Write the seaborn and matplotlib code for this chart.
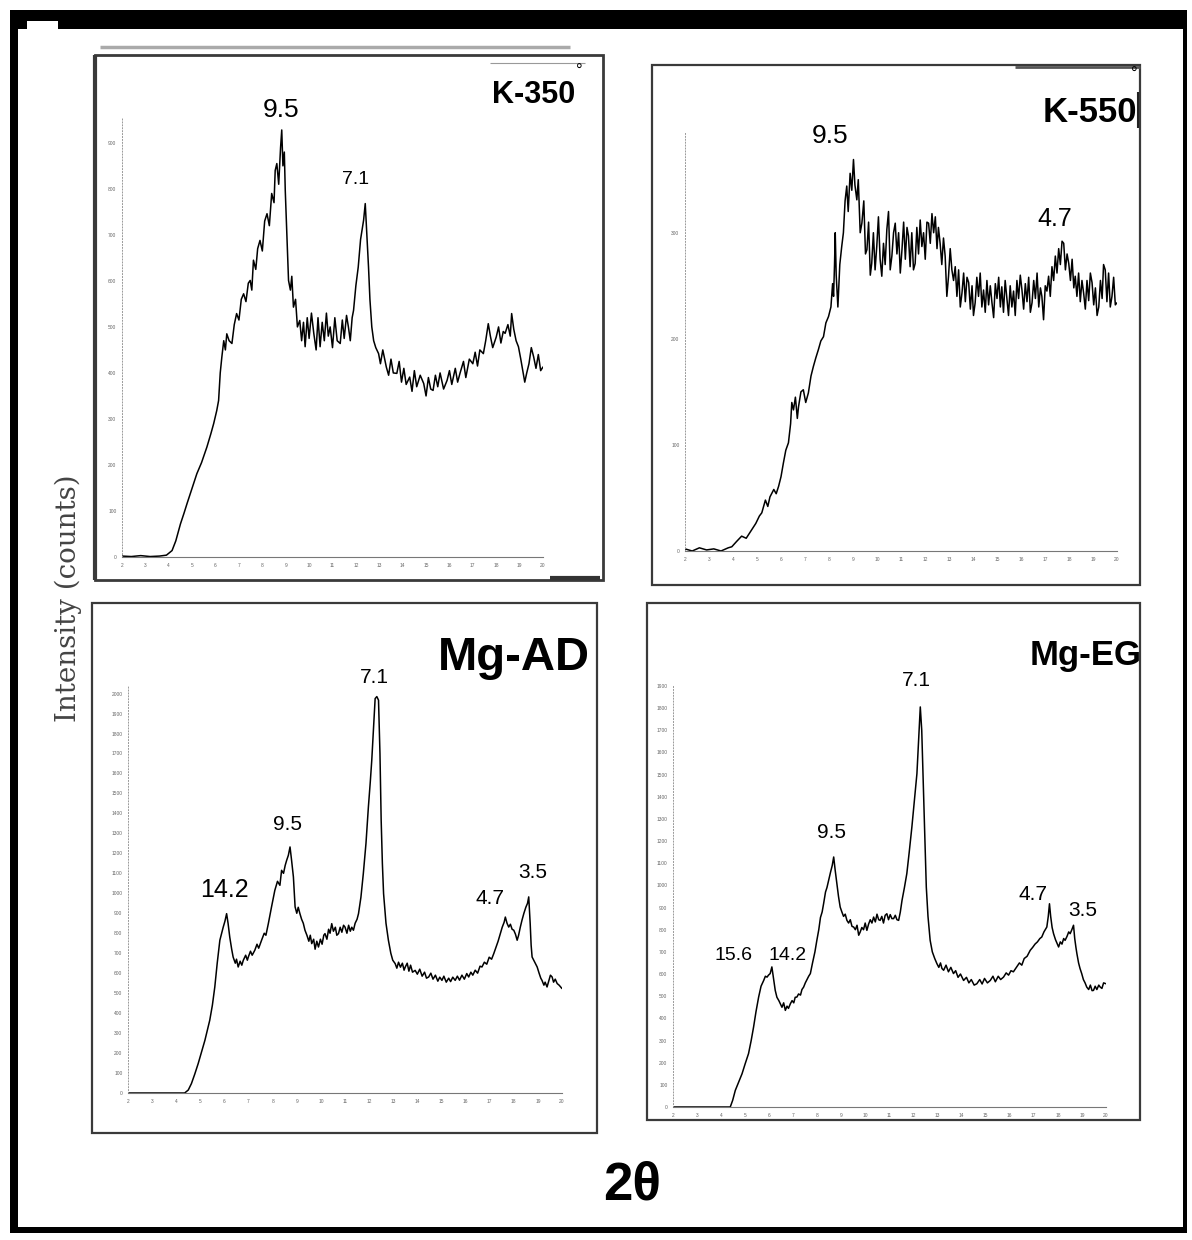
import matplotlib
matplotlib.use('Agg')
import matplotlib.pyplot as plt
from matplotlib.patches import Rectangle
from matplotlib.lines import Line2D
import seaborn as sns

W, H = 1192, 1240

# K-350 trace (2theta, counts)
k350_2theta = [2.0, 2.4, 2.8, 3.2, 3.6, 3.9, 4.14, 4.3, 4.5, 4.65, 4.78, 5.0, 5.2, 5.4, 5.63, 5.8, 5.92,
               6.05, 6.13, 6.2, 6.27, 6.35, 6.42, 6.48, 6.58, 6.7, 6.8, 6.9, 7.0, 7.1, 7.2, 7.3, 7.4,
               7.48, 7.55, 7.62, 7.72, 7.8, 7.9, 8.0, 8.1, 8.2, 8.3, 8.4, 8.5, 8.55, 8.62, 8.7, 8.78,
               8.83, 8.88, 8.94, 8.98, 9.05, 9.12, 9.2, 9.26, 9.33, 9.42, 9.5, 9.6, 9.68, 9.76, 9.83,
               9.92, 10.0, 10.1, 10.2, 10.3, 10.38, 10.47, 10.56, 10.65, 10.74, 10.82, 10.9, 11.0,
               11.1, 11.2, 11.33, 11.42, 11.5, 11.6, 11.68, 11.76, 11.84, 11.9, 12.0, 12.1, 12.2,
               12.33, 12.4, 12.47, 12.54, 12.6, 12.68, 12.76, 12.85, 12.97, 13.05, 13.15, 13.3, 13.4,
               13.5, 13.6, 13.75, 13.85, 13.95, 14.05, 14.15, 14.3, 14.4, 14.5, 14.6, 14.75, 14.9,
               15.0, 15.1, 15.2, 15.3, 15.4, 15.5, 15.6, 15.75, 15.9, 16.0, 16.1, 16.25, 16.35, 16.45,
               16.6, 16.7, 16.85, 17.0, 17.1, 17.2, 17.3, 17.45, 17.55, 17.66, 17.75, 17.85, 18.0,
               18.1, 18.2, 18.3, 18.38, 18.5, 18.6, 18.66, 18.75, 18.85, 18.95, 19.05, 19.15, 19.22,
               19.3, 19.4, 19.5, 19.6, 19.7, 19.8, 19.9, 20.0]
k350_counts = [2, 1, 3, 1, 2, 4, 14, 35, 72, 95, 116, 150, 181, 205, 239, 268, 290,
               318, 340, 400, 435, 470, 450, 485, 470, 464, 505, 529, 515, 560, 572, 555, 595,
               601, 580, 645, 625, 670, 688, 665, 730, 746, 720, 790, 770, 840, 855, 810, 890,
               928, 850, 880, 797, 700, 601, 580, 610, 543, 560, 500, 514, 470, 510, 457,
               520, 475, 530, 486, 450, 520, 457, 510, 470, 530, 480, 500, 455,
               520, 470, 464, 515, 475, 525, 500, 470, 520, 536, 590, 630, 690,
               732, 768, 700, 630, 560, 500, 470, 455, 442, 420, 450, 413, 395,
               430, 400, 399, 425, 380, 410, 375, 391, 360, 405, 370, 395, 377,
               350, 390, 365, 362, 395, 370, 400, 365, 384, 405, 375, 410, 380, 399,
               425, 390, 430, 420, 445, 415, 450, 442, 470, 507, 480, 455, 478,
               500, 465, 490, 486, 505, 480, 529, 495, 470, 457, 430, 400, 380,
               399, 420, 455, 435, 410, 440, 405, 413]

# K-550 trace
k550_2theta = [2.0, 2.3, 2.6, 2.9, 3.2, 3.5, 3.8, 3.95, 4.15, 4.36, 4.55, 4.78, 4.95, 5.1, 5.2, 5.35,
               5.45, 5.54, 5.7, 5.8, 5.9, 6.0, 6.1, 6.2, 6.31, 6.4, 6.45, 6.52, 6.6, 6.68, 6.73, 6.83,
               6.93, 7.03, 7.14, 7.25, 7.35, 7.45, 7.56, 7.66, 7.77, 7.87, 7.98, 8.08, 8.15, 8.19,
               8.23, 8.26, 8.3, 8.37, 8.45, 8.53, 8.6, 8.67, 8.74, 8.8, 8.88, 8.95, 9.02, 9.08, 9.16,
               9.22, 9.3, 9.37, 9.45, 9.52, 9.58, 9.65, 9.72, 9.78, 9.85, 9.92, 9.99, 10.06, 10.13,
               10.2, 10.27, 10.34, 10.41, 10.48, 10.55, 10.62, 10.69, 10.76, 10.83, 10.9, 10.97,
               11.04, 11.11, 11.18, 11.25, 11.31, 11.38, 11.45, 11.52, 11.59, 11.66, 11.73, 11.8,
               11.87, 11.94, 12.01, 12.08, 12.15, 12.22, 12.29, 12.36, 12.43, 12.5, 12.56, 12.63,
               12.7, 12.77, 12.84, 12.91, 12.98, 13.05, 13.12, 13.19, 13.26, 13.33, 13.4, 13.47,
               13.54, 13.61, 13.68, 13.75, 13.82, 13.89, 13.96, 14.02, 14.09, 14.16, 14.23, 14.3,
               14.37, 14.44, 14.51, 14.58, 14.65, 14.72, 14.79, 14.86, 14.93, 15.0, 15.07, 15.14,
               15.2, 15.27, 15.34, 15.41, 15.48, 15.55, 15.62, 15.69, 15.76, 15.83, 15.9, 15.97,
               16.04, 16.11, 16.18, 16.25, 16.32, 16.39, 16.46, 16.53, 16.6, 16.67, 16.74, 16.81,
               16.87, 16.94, 17.01, 17.08, 17.15, 17.22, 17.29, 17.36, 17.43, 17.5, 17.57, 17.64,
               17.71, 17.78, 17.85, 17.92, 17.99, 18.06, 18.13, 18.2, 18.26, 18.33, 18.4, 18.47,
               18.54, 18.61, 18.68, 18.75, 18.82, 18.89, 18.96, 19.03, 19.1, 19.17, 19.24, 19.31,
               19.38, 19.44, 19.51, 19.58, 19.65, 19.72, 19.79, 19.86, 19.93, 20.0]
k550_counts = [2, 0, 3, 1, 2, 0, 3, 4, 9, 14, 12, 20, 26, 33, 36, 48,
               42, 51, 58, 54, 61, 70, 83, 95, 102, 120, 140, 133, 145, 125, 136, 150,
               152, 140, 149, 165, 174, 182, 190, 198, 202, 215, 221, 230, 252, 240,
               270, 300, 260, 230, 270, 287, 300, 330, 344, 320, 356, 340, 369, 345, 331,
               350, 300, 309, 330, 280, 284, 310, 260, 271, 300, 265, 287, 315, 275,
               259, 290, 270, 303, 320, 265, 278, 300, 309, 280, 300, 262,
               284, 310, 275, 305, 297, 268, 300, 265, 271, 305, 280, 312,
               287, 300, 275, 310, 309, 290, 318, 300, 315, 285, 305, 290,
               270, 295, 278, 240, 259, 285, 265, 255, 268, 240, 265, 230,
               243, 262, 235, 258, 253, 228, 250, 222, 234, 258, 240, 262,
               230, 246, 225, 255, 232, 250, 234, 220, 252, 238, 258, 230,
               249, 225, 255, 238, 222, 250, 230, 245, 222, 255, 238, 260,
               246, 228, 252, 235, 258, 225, 234, 255, 238, 262, 230, 248,
               240, 218, 250, 245, 259, 240, 268, 255, 278, 262, 285, 270,
               292, 290, 265, 280, 271, 255, 275, 248, 259, 240, 262, 235,
               255, 243, 228, 255, 236, 262, 253, 232, 248, 222, 230, 255,
               238, 270, 265, 235, 262, 230, 240, 258, 232, 234]

# Mg-AD trace
mgad_2theta = [2.0, 3.0, 4.0, 4.35, 4.5, 4.63, 4.77, 4.91, 5.05, 5.19, 5.39, 5.5, 5.6, 5.7, 5.81, 5.95,
               6.02, 6.09, 6.15, 6.22, 6.3, 6.36, 6.45, 6.5, 6.57, 6.65, 6.72, 6.78, 6.88, 6.95, 6.99,
               7.08, 7.15, 7.26, 7.35, 7.42, 7.54, 7.65, 7.72, 7.82, 7.95, 8.09, 8.2, 8.3, 8.37, 8.45,
               8.52, 8.58, 8.65, 8.72, 8.78, 8.86, 8.93, 9.0, 9.06, 9.13, 9.2, 9.27, 9.34, 9.42, 9.5,
               9.56, 9.62, 9.7, 9.76, 9.83, 9.9, 9.98, 10.05, 10.12, 10.17, 10.25, 10.32, 10.38, 10.45,
               10.52, 10.6, 10.66, 10.73, 10.8, 10.87, 10.94, 11.0, 11.08, 11.15, 11.22, 11.28, 11.35,
               11.42, 11.5, 11.56, 11.66, 11.76, 11.87, 11.97, 12.05, 12.11, 12.18, 12.25, 12.32,
               12.39, 12.45, 12.5, 12.55, 12.6, 12.7, 12.8, 12.9, 12.98, 13.08, 13.15, 13.22, 13.3,
               13.38, 13.45, 13.5, 13.58, 13.65, 13.72, 13.8, 13.91, 14.0, 14.1, 14.2, 14.3, 14.38,
               14.47, 14.56, 14.65, 14.75, 14.85, 14.93, 15.02, 15.1, 15.2, 15.3, 15.38, 15.47, 15.57,
               15.66, 15.75, 15.85, 15.95, 16.05, 16.13, 16.22, 16.3, 16.4, 16.5, 16.6, 16.68, 16.78,
               16.88, 16.98, 17.08, 17.17, 17.25, 17.35, 17.44, 17.52, 17.6, 17.65, 17.72, 17.79,
               17.86, 17.93, 18.0, 18.07, 18.14, 18.2, 18.27, 18.34, 18.42, 18.5, 18.57, 18.62, 18.68,
               18.72, 18.76, 18.85, 18.97, 19.05, 19.12, 19.17, 19.25, 19.3, 19.38, 19.45, 19.52,
               19.59, 19.65, 19.72, 19.8, 19.88, 19.95, 20.0]
mgad_counts = [0, 0, 0, 0, 15, 47, 95, 147, 205, 264, 364, 440, 531, 650, 765, 831,
               860, 898, 850, 781, 720, 681, 650, 670, 631, 660, 640, 664, 690, 665, 681,
               710, 690, 715, 745, 725, 765, 800, 790, 848, 930, 1015, 1060, 1040, 1115, 1100,
               1140, 1165, 1190, 1232, 1170, 1082, 932, 900, 930, 898, 870, 850, 815, 790, 760,
               790, 748, 770, 720, 760, 731, 770, 745, 790, 798, 770, 820, 800, 848,
               810, 830, 790, 798, 830, 805, 840, 831, 800, 840, 810, 830, 815,
               850, 870, 898, 980, 1099, 1250, 1432, 1560, 1666, 1820, 1975, 1985,
               1967, 1700, 1366, 1150, 998, 850, 765, 700, 665, 648, 625, 655, 630,
               650, 615, 631, 650, 610, 640, 605, 614, 595, 620, 585, 605, 575,
               581, 600, 570, 590, 560, 580, 564, 585, 555, 575, 558, 580, 564,
               585, 565, 590, 570, 598, 581, 605, 590, 615, 600, 635, 631, 655,
               645, 680, 670, 698, 725, 760, 798, 830, 855, 881, 850, 831,
               845, 820, 815, 795, 765, 790, 830, 865, 900, 930, 950, 982, 850,
               740, 681, 660, 631, 600, 575, 564, 540, 555, 531, 560, 590,
               581, 555, 570, 548, 540, 530, 523]

# Mg-EG trace
mgeg_2theta = [2.0, 3.0, 4.0, 4.38, 4.48, 4.59, 4.73, 4.87, 5.0, 5.14, 5.25, 5.35, 5.45, 5.56, 5.66,
               5.77, 5.84, 5.91, 5.97, 6.04, 6.11, 6.18, 6.25, 6.32, 6.4, 6.46, 6.53, 6.6, 6.67, 6.74,
               6.8, 6.88, 6.95, 7.02, 7.08, 7.15, 7.22, 7.3, 7.36, 7.43, 7.5, 7.57, 7.64, 7.71, 7.8,
               7.9, 7.98, 8.06, 8.13, 8.2, 8.26, 8.34, 8.4, 8.47, 8.55, 8.62, 8.68, 8.74, 8.81, 8.88,
               8.95, 9.02, 9.09, 9.16, 9.23, 9.3, 9.37, 9.44, 9.51, 9.58, 9.65, 9.72, 9.78, 9.85, 9.92,
               9.99, 10.06, 10.13, 10.2, 10.27, 10.34, 10.41, 10.48, 10.55, 10.61, 10.68, 10.75, 10.82,
               10.89, 10.96, 11.03, 11.1, 11.17, 11.24, 11.31, 11.38, 11.45, 11.52, 11.62, 11.72,
               11.82, 11.93, 12.03, 12.14, 12.21, 12.28, 12.34, 12.39, 12.46, 12.53, 12.6, 12.69,
               12.78, 12.88, 12.97, 13.05, 13.12, 13.18, 13.25, 13.35, 13.45, 13.55, 13.66, 13.75,
               13.85, 13.95, 14.08, 14.2, 14.3, 14.4, 14.52, 14.63, 14.75, 14.85, 14.95, 15.07, 15.19,
               15.3, 15.4, 15.52, 15.62, 15.74, 15.85, 15.95, 16.05, 16.15, 16.29, 16.4, 16.5, 16.6,
               16.72, 16.85, 16.95, 17.05, 17.15, 17.25, 17.33, 17.42, 17.54, 17.6, 17.65, 17.7,
               17.76, 17.82, 17.9, 17.96, 18.03, 18.1, 18.17, 18.24, 18.3, 18.38, 18.45, 18.51, 18.58,
               18.65, 18.7, 18.75, 18.79, 18.86, 18.92, 18.99, 19.06, 19.13, 19.2, 19.28, 19.35,
               19.42, 19.48, 19.55, 19.62, 19.7, 19.76, 19.83, 19.9, 20.0]
mgeg_counts = [0, 0, 0, 0, 30, 75, 112, 150, 195, 241, 300, 361, 430, 496, 545,
               571, 590, 586, 595, 602, 632, 580, 526, 495, 480, 466, 450, 470, 436, 455,
               445, 466, 480, 470, 495, 496, 510, 505, 530, 541, 560, 575, 590, 602, 650,
               700, 752, 800, 855, 880, 917, 970, 990, 1023, 1060, 1090, 1128, 1070, 1008, 950,
               902, 880, 860, 870, 842, 830, 845, 815, 812, 800, 820, 775, 789, 810, 800,
               830, 797, 825, 845, 830, 857, 835, 870, 845, 842, 860, 830, 865,
               872, 845, 868, 850, 850, 865, 845, 842, 880, 932, 990, 1053,
               1150, 1263, 1380, 1504, 1650, 1805, 1700, 1519, 1250, 992, 860, 752,
               700, 670, 647, 630, 650, 625, 617, 640, 610, 630, 602, 615,
               585, 600, 571, 585, 560, 575, 550, 556, 575, 555, 580, 560, 571,
               590, 565, 590, 575, 586, 605, 595, 615, 610, 632, 650, 640, 670,
               680, 707, 720, 735, 745, 760, 767, 790, 812, 860, 917, 860,
               810, 782, 755, 740, 722, 745, 735, 760, 752, 770, 790, 782, 800,
               820, 760, 720, 692, 650, 625, 602, 575, 560, 541, 530, 550,
               525, 526, 545, 530, 550, 541, 535, 560, 556]

x_tick_labels = [str(v) for v in range(2, 21)]

sns.set_style('white')
plt.rcParams['font.family'] = ['Liberation Sans', 'DejaVu Sans']
plt.rcParams['text.color'] = 'black'

fig = plt.figure(figsize=(W / 100, H / 100), dpi=100)


def fx(x):
    return x / W


def fy(y):
    return 1 - y / H


def rect(x0, y0, x1, y1, fill=False, lw=1.8, color='#3a3a3a'):
    fig.add_artist(Rectangle((fx(x0), fy(y1)), fx(x1) - fx(x0), fy(y0) - fy(y1),
                             transform=fig.transFigure, fill=fill, lw=lw,
                             ec=color if not fill else 'none', fc=color if fill else 'none'))


def seg(x0, y0, x1, y1, lw, color):
    fig.add_artist(Line2D([fx(x0), fx(x1)], [fy(y0), fy(y1)], transform=fig.transFigure,
                          lw=lw, color=color, solid_capstyle='butt'))


def label(x, y, s, size, weight='normal', va='center', **kw):
    fig.text(fx(x), fy(y), s, fontsize=size, fontweight=weight, ha='center', va=va, **kw)


def panel(left, right, bottom, top, ymax, ystep, x, y):
    ax = fig.add_axes([fx(left), fy(bottom), fx(right) - fx(left), fy(top) - fy(bottom)])
    ax.patch.set_alpha(0)
    sns.lineplot(x=x, y=y, ax=ax, color='black', lw=1.1, estimator=None, sort=False)
    ax.set_xlim(2, 20)
    ax.set_ylim(0, ymax)
    ax.set_xticks(range(2, 21))
    ax.set_xticklabels(x_tick_labels)
    ax.set_xticks([2 + 0.25 * i for i in range(73)], minor=True)
    yt = list(range(0, int(ymax) + 1, ystep))
    ax.set_yticks(yt)
    ax.set_yticklabels([str(v) for v in yt])
    ax.set_yticks(list(range(0, int(ymax) + 1, ystep // 5)), minor=True)
    ax.set_xlabel('')
    ax.set_ylabel('')
    for s in ('top', 'right'):
        ax.spines[s].set_visible(False)
    ax.spines['bottom'].set_color('#777777')
    ax.spines['bottom'].set_linewidth(0.8)
    ax.spines['left'].set_color('#999999')
    ax.spines['left'].set_linewidth(0.7)
    ax.spines['left'].set_linestyle((0, (1, 2)))
    ax.tick_params(which='major', length=2.5, width=0.6, colors='#666666', labelsize=3.5, pad=1.5)
    ax.tick_params(which='minor', length=1.5, width=0.4, colors='#888888')
    ax.tick_params(axis='y', which='both', direction='out')
    return ax


# outer black frame
rect(10, 10, 1187, 21, fill=True, color='black')
rect(58, 10, 1187, 29, fill=True, color='black')
rect(10, 10, 27, 29, fill=True, color='black')
rect(10, 10, 18, 1233, fill=True, color='black')
rect(1183, 10, 1187, 1233, fill=True, color='black')
rect(10, 1227, 1187, 1233, fill=True, color='black')

# panel frames
rect(95, 55, 603, 580, lw=2.0)
seg(95, 55, 95, 580, 3.0, '#3a3a3a')
seg(100, 47, 570, 47, 2.5, '#aaaaaa')
seg(550, 578, 600, 578, 3.0, '#333333')
seg(490, 63, 585, 63, 0.8, '#999999')
rect(652, 65, 1140, 585, lw=1.6)
seg(1015, 67, 1140, 67, 2.0, '#555555')
seg(1138, 92, 1138, 128, 1.5, '#222222')
rect(92, 603, 597, 1133, lw=1.6)
rect(647, 603, 1140, 1120, lw=1.6)

panel(122, 543, 557, 118, 954, 100, k350_2theta, k350_counts)
panel(685, 1117, 551, 133, 394, 100, k550_2theta, k550_counts)
panel(128, 562, 1093, 685, 2043, 100, mgad_2theta, mgad_counts)
panel(673, 1106, 1107, 685, 1904, 100, mgeg_2theta, mgeg_counts)

# panel titles
label(534, 95, 'K-350', 22, 'bold')
label(579, 71, '°', 12)
label(1090, 112, 'K-550', 25, 'bold')
label(1134, 74, '°', 12)
label(514, 670, 'Mg-AD', 34, 'bold', va='baseline')
label(1086, 665, 'Mg-EG', 25, 'bold', va='baseline')

# peak d-spacing labels
label(281, 110, '9.5', 19)
label(356, 179, '7.1', 14)
label(830, 136, '9.5', 19)
label(1055, 219, '4.7', 18)
label(224, 890, '14.2', 18)
label(287, 825, '9.5', 15)
label(374, 677, '7.1', 15)
label(490, 898, '4.7', 15)
label(533, 872, '3.5', 15)
label(733, 955, '15.6', 14)
label(788, 955, '14.2', 14)
label(831, 832, '9.5', 15)
label(916, 680, '7.1', 15)
label(1033, 894, '4.7', 15)
label(1083, 910, '3.5', 15)

# shared axis titles
fig.text(fx(68), fy(598), 'Intensity (counts)', rotation=90, fontsize=20, ha='center', va='center',
         family=['DejaVu Serif'], color='#444444')
label(632, 1185, '2θ', 38, 'bold')

fig.savefig('out.png', dpi=100)
